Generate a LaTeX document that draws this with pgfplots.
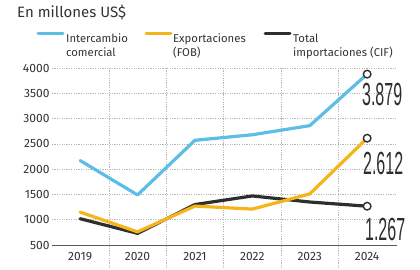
\documentclass[border=0pt]{standalone}
\usepackage{pgfplots}
\pgfplotsset{compat=1.18}
\usepackage{fontspec}
\setmainfont{Fira Sans}
\newfontfamily\numfont{Liberation Sans}
\definecolor{cblue}{HTML}{5BBEE4}
\definecolor{cyel}{HTML}{F4B41A}
\definecolor{cblk}{HTML}{2E2E2E}
\definecolor{ctxt}{HTML}{333333}
\definecolor{cgrid}{HTML}{B8B8B8}
\begin{document}
\begin{tikzpicture}
\path[use as bounding box] (0,0) rectangle (420pt,270pt);
% title
\node[anchor=base west, inner sep=0, text=ctxt, font=\fontsize{15}{17}\selectfont] at (17pt,252.7pt) {En millones US\$};
% legend
\draw[cblue, line width=3pt, line cap=round] (38pt,236.5pt) -- (63pt,236.5pt);
\node[anchor=base west, inner sep=0, text=ctxt, font=\fontsize{11.3}{13}\selectfont] at (66pt,227.7pt) {Intercambio};
\node[anchor=base west, inner sep=0, text=ctxt, font=\fontsize{11.3}{13}\selectfont] at (66pt,213.3pt) {comercial};
\draw[cyel, line width=3pt, line cap=round] (146pt,236.5pt) -- (171pt,236.5pt);
\node[anchor=base west, inner sep=0, text=ctxt, font=\fontsize{11.3}{13}\selectfont] at (173pt,227.7pt) {Exportaciones};
\node[anchor=base west, inner sep=0, text=ctxt, font=\fontsize{11.3}{13}\selectfont] at (173pt,213.3pt) {(FOB)};
\draw[cblk, line width=3pt, line cap=round] (265pt,236.5pt) -- (290pt,236.5pt);
\node[anchor=base west, inner sep=0, text=ctxt, font=\fontsize{11.3}{13}\selectfont] at (293pt,227.7pt) {Total};
\node[anchor=base west, inner sep=0, text=ctxt, font=\fontsize{11.3}{13}\selectfont] at (293pt,213.3pt) {importaciones (CIF)};
\begin{axis}[
  at={(52pt,25pt)}, anchor=south west,
  scale only axis, width=345pt, height=177pt,
  xmin=2018.51, xmax=2024.52, ymin=500, ymax=4000,
  axis line style={draw=none},
  major tick length=0pt,
  xtick={2019,...,2024}, ytick={500,1000,...,4000},
  xticklabels={2019,2020,2021,2022,2023,2024},
  /pgf/number format/assume math mode=true,
  /pgf/number format/set thousands separator={},
  ticklabel style={font=\fontsize{12}{14}\selectfont, text=ctxt},
  yticklabel style={xshift=1pt},
  xticklabel style={yshift=-4pt},
  ymajorgrids, grid style={cgrid, dash pattern=on 1.2pt off 1.2pt, line width=0.5pt},
  clip=false,
]
\pgfplotsinvokeforeach{2019.5,2020.5,2021.5,2022.5,2023.5}{
  \draw[cgrid, dash pattern=on 1.2pt off 1.2pt, line width=0.5pt] (axis cs:#1,4000) -- ([yshift=-25pt]axis cs:#1,500);
}
\draw[black!65, line width=0.8pt] (rel axis cs:0,0) -- (rel axis cs:1,0);
\addplot[cblk, line width=3.2pt, line join=round, line cap=round] coordinates {
 (2019,1020) (2020,730) (2021,1300) (2022,1470) (2023,1350) (2024,1267)};
\addplot[cyel, line width=3.2pt, line join=round, line cap=round] coordinates {
 (2019,1150) (2020,760) (2021,1270) (2022,1210) (2023,1510) (2024,2612)};
\addplot[cblue, line width=3.2pt, line join=round, line cap=round] coordinates {
 (2019,2170) (2020,1490) (2021,2570) (2022,2680) (2023,2860) (2024,3879)};
\addplot[only marks, mark=*, mark size=3.8pt, mark options={fill=white, draw=cblk, line width=1.4pt}] coordinates {
 (2024,3879) (2024,2612) (2024,1267)};
\node[text=cblk, inner sep=0, xshift=15pt, yshift=-20pt] at (axis cs:2024,3879) {\scalebox{0.5}[1]{\numfont\fontsize{32}{34}\selectfont 3.879}};
\node[text=cblk, inner sep=0, xshift=16pt, yshift=-25pt] at (axis cs:2024,2612) {\scalebox{0.5}[1]{\numfont\fontsize{32}{34}\selectfont 2.612}};
\node[text=cblk, inner sep=0, xshift=18pt, yshift=-23pt] at (axis cs:2024,1267) {\scalebox{0.5}[1]{\numfont\fontsize{32}{34}\selectfont 1.267}};
\end{axis}
\end{tikzpicture}
\end{document}
